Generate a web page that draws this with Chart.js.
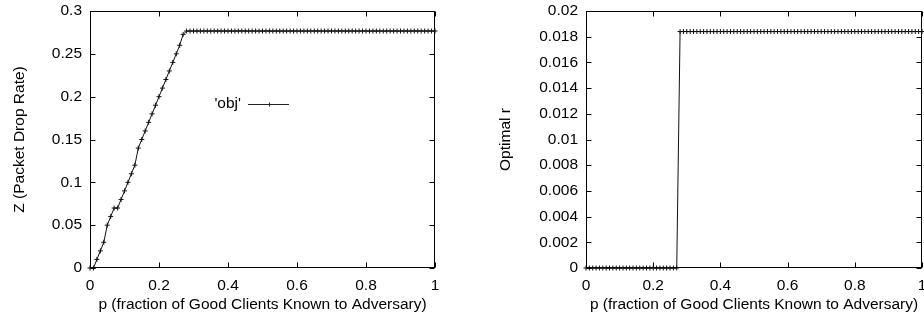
<!DOCTYPE html>
<html>
<head>
<meta charset="utf-8">
<script src="https://cdn.jsdelivr.net/npm/chart.js@4.4.1/dist/chart.umd.min.js"></script>
<style>
  html, body { margin:0; padding:0; background:#fff; overflow:hidden; }
  #wrap { position:relative; width:924px; height:322px; overflow:hidden; }
  #w1 { position:absolute; left:0; top:0; width:462px; height:322px; }
  #w2 { position:absolute; left:462px; top:0; width:480px; height:322px; }
</style>
</head>
<body>
<div id="wrap">
  <div id="w1"><canvas id="c1" width="462" height="322"></canvas></div>
  <div id="w2"><canvas id="c2" width="480" height="322"></canvas></div>
</div>
<script>
// ---- data ----
const P = [
  0, 0.01, 0.02, 0.03, 0.04, 0.05, 0.06, 0.07, 0.08, 0.09,
  0.10, 0.11, 0.12, 0.13, 0.14, 0.15, 0.16, 0.17, 0.18, 0.19,
  0.20, 0.21, 0.22, 0.23, 0.24, 0.25, 0.26, 0.27, 0.28, 0.29,
  0.30, 0.31, 0.32, 0.33, 0.34, 0.35, 0.36, 0.37, 0.38, 0.39,
  0.40, 0.41, 0.42, 0.43, 0.44, 0.45, 0.46, 0.47, 0.48, 0.49,
  0.50, 0.51, 0.52, 0.53, 0.54, 0.55, 0.56, 0.57, 0.58, 0.59,
  0.60, 0.61, 0.62, 0.63, 0.64, 0.65, 0.66, 0.67, 0.68, 0.69,
  0.70, 0.71, 0.72, 0.73, 0.74, 0.75, 0.76, 0.77, 0.78, 0.79,
  0.80, 0.81, 0.82, 0.83, 0.84, 0.85, 0.86, 0.87, 0.88, 0.89,
  0.90, 0.91, 0.92, 0.93, 0.94, 0.95, 0.96, 0.97, 0.98, 0.99,
  1.00
];
const Z = [
  0, 0, 0.01, 0.02, 0.03, 0.05, 0.06, 0.07, 0.07, 0.08,
  0.09, 0.10, 0.11, 0.12, 0.14, 0.15, 0.16, 0.17, 0.18, 0.19,
  0.20, 0.21, 0.22, 0.23, 0.24, 0.25, 0.26, 0.2727, 0.2766, 0.2766,
  0.2766, 0.2766, 0.2766, 0.2766, 0.2766, 0.2766, 0.2766, 0.2766, 0.2766, 0.2766,
  0.2766, 0.2766, 0.2766, 0.2766, 0.2766, 0.2766, 0.2766, 0.2766, 0.2766, 0.2766,
  0.2766, 0.2766, 0.2766, 0.2766, 0.2766, 0.2766, 0.2766, 0.2766, 0.2766, 0.2766,
  0.2766, 0.2766, 0.2766, 0.2766, 0.2766, 0.2766, 0.2766, 0.2766, 0.2766, 0.2766,
  0.2766, 0.2766, 0.2766, 0.2766, 0.2766, 0.2766, 0.2766, 0.2766, 0.2766, 0.2766,
  0.2766, 0.2766, 0.2766, 0.2766, 0.2766, 0.2766, 0.2766, 0.2766, 0.2766, 0.2766,
  0.2766, 0.2766, 0.2766, 0.2766, 0.2766, 0.2766, 0.2766, 0.2766, 0.2766, 0.2766,
  0.2766
];
const R = [
  0, 0, 0, 0, 0, 0, 0, 0, 0, 0,
  0, 0, 0, 0, 0, 0, 0, 0, 0, 0,
  0, 0, 0, 0, 0, 0, 0, 0, 0.0184, 0.0184,
  0.0184, 0.0184, 0.0184, 0.0184, 0.0184, 0.0184, 0.0184, 0.0184, 0.0184, 0.0184,
  0.0184, 0.0184, 0.0184, 0.0184, 0.0184, 0.0184, 0.0184, 0.0184, 0.0184, 0.0184,
  0.0184, 0.0184, 0.0184, 0.0184, 0.0184, 0.0184, 0.0184, 0.0184, 0.0184, 0.0184,
  0.0184, 0.0184, 0.0184, 0.0184, 0.0184, 0.0184, 0.0184, 0.0184, 0.0184, 0.0184,
  0.0184, 0.0184, 0.0184, 0.0184, 0.0184, 0.0184, 0.0184, 0.0184, 0.0184, 0.0184,
  0.0184, 0.0184, 0.0184, 0.0184, 0.0184, 0.0184, 0.0184, 0.0184, 0.0184, 0.0184,
  0.0184, 0.0184, 0.0184, 0.0184, 0.0184, 0.0184, 0.0184, 0.0184, 0.0184, 0.0184,
  0.0184
];
const pTicks = [0, 0.2, 0.4, 0.6, 0.8, 1];
const pTickLabels = ['0', '0.2', '0.4', '0.6', '0.8', '1'];
const zTicks = [0, 0.05, 0.1, 0.15, 0.2, 0.25, 0.3];
const zTickLabels = ['0', '0.05', '0.1', '0.15', '0.2', '0.25', '0.3'];
const rTicks = [0, 0.002, 0.004, 0.006, 0.008, 0.01, 0.012, 0.014, 0.016, 0.018, 0.02];
const rTickLabels = ['0', '0.002', '0.004', '0.006', '0.008', '0.01', '0.012', '0.014', '0.016', '0.018', '0.02'];
const xTitle = 'p (fraction of Good Clients Known to Adversary)';
const zTitle = 'Z (Packet Drop Rate)';
const rTitle = 'Optimal r';
const seriesName = "'obj'";

// ---- styling ----
const FONT = "'Liberation Sans', Arial, Helvetica, sans-serif";
const FS = 15.5;
const INK = '#000';

const frame = {
  id: 'frame',
  beforeDatasetsDraw(chart) {
    const {ctx, chartArea: a, scales: {x, y}} = chart;
    const L = 5;
    const l = Math.round(a.left) + 0.5, r = Math.round(a.right) - 0.5;
    const t = Math.round(a.top) + 0.5, b = Math.round(a.bottom) - 0.5;
    ctx.save();
    ctx.strokeStyle = INK;
    ctx.lineWidth = 1;
    ctx.strokeRect(l, t, r - l, b - t);
    ctx.beginPath();
    x.ticks.forEach(tk => {
      const px = Math.round(x.getPixelForValue(tk.value)) + 0.5;
      ctx.moveTo(px, b); ctx.lineTo(px, b - L);
      ctx.moveTo(px, t); ctx.lineTo(px, t + L);
    });
    y.ticks.forEach(tk => {
      const py = Math.round(y.getPixelForValue(tk.value)) + 0.5;
      ctx.moveTo(l, py); ctx.lineTo(l + L, py);
      ctx.moveTo(r, py); ctx.lineTo(r - L, py);
    });
    ctx.stroke();
    ctx.restore();
  }
};

const keyBox = {
  id: 'keyBox',
  afterDatasetsDraw(chart) {
    const {ctx} = chart;
    const tx = 241, ty = 104, x0 = 248, x1 = 289;
    ctx.save();
    ctx.fillStyle = INK;
    ctx.font = FS + 'px ' + FONT;
    ctx.textAlign = 'right';
    ctx.textBaseline = 'middle';
    ctx.fillText(seriesName, tx, ty);
    ctx.strokeStyle = '#222';
    ctx.lineWidth = 1;
    ctx.beginPath();
    ctx.moveTo(x0, ty + 0.5); ctx.lineTo(x1, ty + 0.5);
    const mx = Math.round((x0 + x1) / 2);
    ctx.moveTo(mx + 0.5, ty - 1.5); ctx.lineTo(mx + 0.5, ty + 2.5);
    ctx.stroke();
    ctx.restore();
  }
};

function makeChart(id, values, yTicks, yLabels, yMax, yTitleText, yAxisW, yTitlePad, rightPad, extraPlugins) {
  return new Chart(document.getElementById(id), {
    type: 'line',
    data: {
      datasets: [{
        data: P.map((p, i) => ({x: p, y: values[i]})),
        borderColor: '#111',
        borderWidth: 1,
        pointStyle: 'cross',
        pointRadius: 2.5,
        pointBorderWidth: 1,
        pointBorderColor: '#111',
        pointHoverRadius: 2.5,
        tension: 0,
        fill: false,
        clip: 5
      }]
    },
    options: {
      responsive: false,
      animation: false,
      devicePixelRatio: 1,
      layout: {padding: {left: 0, right: rightPad, top: 11, bottom: 0}},
      plugins: {legend: {display: false}, tooltip: {enabled: false}},
      scales: {
        x: {
          type: 'linear',
          min: 0, max: 1,
          afterBuildTicks: s => { s.ticks = pTicks.map(v => ({value: v})); },
          afterFit: s => { s.height = 54; s.paddingLeft = 0; s.paddingRight = 0; },
          grid: {display: false, drawTicks: false},
          border: {display: false},
          ticks: {
            color: INK, padding: 8, maxRotation: 0, autoSkip: false,
            font: {family: FONT, size: FS},
            callback: (v, i) => pTickLabels[i]
          },
          title: {
            display: true, text: xTitle, color: INK,
            font: {family: FONT, size: FS},
            padding: {top: 0, bottom: 8}
          }
        },
        y: {
          type: 'linear',
          min: 0, max: yMax,
          afterBuildTicks: s => { s.ticks = yTicks.map(v => ({value: v})); },
          afterFit: s => { s.width = yAxisW; s.paddingTop = 0; s.paddingBottom = 0; },
          grid: {display: false, drawTicks: false},
          border: {display: false},
          ticks: {
            color: INK, padding: 8, autoSkip: false,
            font: {family: FONT, size: FS},
            callback: (v, i) => yLabels[i]
          },
          title: {
            display: true, text: yTitleText, color: INK,
            font: {family: FONT, size: FS},
            padding: {top: yTitlePad, bottom: 0}
          }
        }
      }
    },
    plugins: [frame].concat(extraPlugins)
  });
}

makeChart('c1', Z, zTicks, zTickLabels, 0.3, zTitle, 90, 10, 27, [keyBox]);
makeChart('c2', R, rTicks, rTickLabels, 0.02, rTitle, 124, 34, 20, []);
</script>
</body>
</html>
